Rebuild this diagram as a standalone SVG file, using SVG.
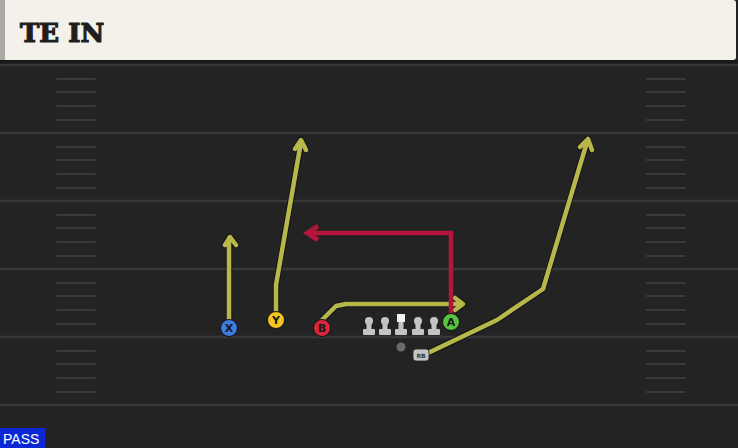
<svg xmlns="http://www.w3.org/2000/svg" width="738" height="448" viewBox="0 0 738 448">
<style>
.yl{stroke:#383838;stroke-width:2.5}
.hm{stroke:#3a3a3a;stroke-width:2;stroke-linecap:round}
.rt{fill:none;stroke:#b8b84a;stroke-width:4.5;stroke-linejoin:round;stroke-linecap:round}
.rtd{fill:none;stroke:#14141c;stroke-width:6.5;stroke-linejoin:round;stroke-linecap:round}
.red{fill:none;stroke:#b3163b;stroke-width:4.5;stroke-linejoin:miter}
.lbl{font-family:"DejaVu Sans",sans-serif;font-weight:bold;font-size:11px;fill:#1a1a1a;text-anchor:middle}
.ol{fill:#c4c4c4}
</style>
<rect width="738" height="448" fill="#232323"/>
<rect x="0" y="0" width="736" height="60" rx="3" fill="#f4f1ea"/>
<rect x="0" y="0" width="5" height="60" fill="#a9aaa6"/>
<rect x="0" y="60" width="738" height="4" fill="#1a1a1a"/>
<text x="20" y="42" font-family="'DejaVu Serif',serif" font-weight="bold" font-size="26" fill="#1e1e1e" stroke="#1e1e1e" stroke-width="1.2">TE IN</text>
<g id="field">
<line class="yl" x1="0" y1="65" x2="738" y2="65"/>
<line class="yl" x1="0" y1="133" x2="738" y2="133"/>
<line class="yl" x1="0" y1="201" x2="738" y2="201"/>
<line class="yl" x1="0" y1="269" x2="738" y2="269"/>
<line class="yl" x1="0" y1="337" x2="738" y2="337"/>
<line class="yl" x1="0" y1="405" x2="738" y2="405"/>
<g class="hm">
<path d="M57 79H95M57 92H95M57 106H95M57 120H95M57 147H95M57 160H95M57 174H95M57 188H95M57 215H95M57 228H95M57 242H95M57 256H95M57 283H95M57 296H95M57 310H95M57 324H95M57 351H95M57 364H95M57 378H95M57 392H95"/>
<path d="M647 79H685M647 92H685M647 106H685M647 120H685M647 147H685M647 160H685M647 174H685M647 188H685M647 215H685M647 228H685M647 242H685M647 256H685M647 283H685M647 296H685M647 310H685M647 324H685M647 351H685M647 364H685M647 378H685M647 392H685"/>
</g>
</g>
<g id="connectors">
<path class="rtd" d="M229 320V238M225 245L230 237L236 245"/>
<path class="rt" d="M229 320V238M225 245L230 237L236 245"/>
<path class="rtd" d="M276 312V285L301 142M295 149L301 140L306 150"/>
<path class="rt" d="M276 312V285L301 142M295 149L301 140L306 150"/>
<path class="rtd" d="M322 320L336 306L346 304H462M455 298L463 304L455 310"/>
<path class="rt" d="M322 320L336 306L346 304H462M455 298L463 304L455 310"/>
<path class="rtd" d="M428 353L497 320L543 289L587 142M580 147L588 139L592 150"/>
<path class="rt" d="M428 353L497 320L543 289L587 142M580 147L588 139L592 150"/>
<path class="red" d="M451 314V233H311"/>
<path d="M318 226L307 233L318 240" fill="none" stroke="#b3163b" stroke-width="4.5"/>
</g>
<g id="line">
<g id="ol1"><circle class="ol" cx="369" cy="321" r="4"/><rect class="ol" x="366.5" y="322" width="5" height="9"/><rect class="ol" x="363" y="329" width="12" height="6" rx="1"/></g>
<g id="ol2"><circle class="ol" cx="385" cy="321" r="4"/><rect class="ol" x="382.5" y="322" width="5" height="9"/><rect class="ol" x="379" y="329" width="12" height="6" rx="1"/></g>
<g id="center"><rect x="397" y="314" width="8" height="8" fill="#f2f2f2"/><rect class="ol" x="398.5" y="322" width="5" height="9"/><rect class="ol" x="395" y="329" width="12" height="6" rx="1"/></g>
<g id="ol4"><circle class="ol" cx="418" cy="321" r="4"/><rect class="ol" x="415.5" y="322" width="5" height="9"/><rect class="ol" x="412" y="329" width="12" height="6" rx="1"/></g>
<g id="ol5"><circle class="ol" cx="434" cy="321" r="4"/><rect class="ol" x="431.5" y="322" width="5" height="9"/><rect class="ol" x="428" y="329" width="12" height="6" rx="1"/></g>
</g>
<g id="QB"><circle cx="401" cy="347" r="4.5" fill="#6a6a6a"/></g>
<g id="RB"><rect x="413" y="349" width="16" height="12" rx="3" fill="#c4c4c4" stroke="#222" stroke-width="0.8"/><text x="421" y="358" font-family="'DejaVu Sans',sans-serif" font-weight="bold" font-size="6" fill="#333" text-anchor="middle">RB</text></g>
<g id="X"><circle cx="229" cy="328" r="8.5" fill="#3d7de0" stroke="#111" stroke-width="1"/><text class="lbl" x="229" y="332">X</text></g>
<g id="Y"><circle cx="276" cy="320" r="8.5" fill="#f2c521" stroke="#111" stroke-width="1"/><text class="lbl" x="276" y="324">Y</text></g>
<g id="B"><circle cx="322" cy="328" r="8.5" fill="#d8283c" stroke="#111" stroke-width="1"/><text class="lbl" x="322" y="332">B</text></g>
<g id="A"><circle cx="451" cy="322" r="8.5" fill="#56c43e" stroke="#111" stroke-width="1"/><text class="lbl" x="451" y="326">A</text></g>
<g id="pass"><rect x="0" y="428" width="45" height="20" fill="#0c28d6"/><text x="3" y="444" font-family="'Liberation Sans',sans-serif" font-size="14" fill="#ffffff">PASS</text></g>
</svg>
